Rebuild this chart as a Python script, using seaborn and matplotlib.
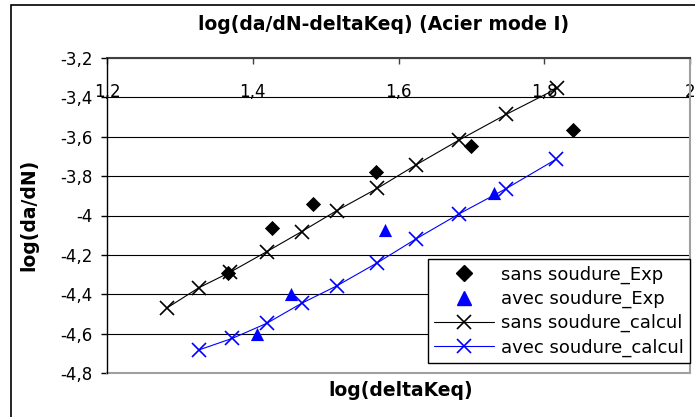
import matplotlib
matplotlib.use("Agg")
import matplotlib.pyplot as plt
import seaborn as sns
from matplotlib.lines import Line2D
from matplotlib.patches import Rectangle

sns.set_theme(style="white")
plt.rcParams['font.family'] = ['DejaVu Sans']
plt.rcParams['text.color'] = 'black'
plt.rcParams['axes.labelcolor'] = 'black'
plt.rcParams['xtick.color'] = 'black'
plt.rcParams['ytick.color'] = 'black'

# Data
sans_exp_x = [1.366, 1.427, 1.482, 1.569, 1.699, 1.839]
sans_exp_y = [-4.293, -4.062, -3.943, -3.781, -3.645, -3.566]
avec_exp_x = [1.406, 1.453, 1.581, 1.731]
avec_exp_y = [-4.603, -4.400, -4.074, -3.887]
sans_calc_x = [1.283, 1.326, 1.369, 1.419, 1.467, 1.515, 1.571, 1.624, 1.683, 1.748, 1.818]
sans_calc_y = [-4.468, -4.367, -4.288, -4.184, -4.082, -3.976, -3.862, -3.743, -3.617, -3.486, -3.354]
avec_calc_x = [1.326, 1.372, 1.419, 1.467, 1.515, 1.571, 1.624, 1.683, 1.747, 1.816]
avec_calc_y = [-4.683, -4.624, -4.548, -4.446, -4.358, -4.240, -4.119, -3.992, -3.865, -3.715]
x_ticks = [1.2, 1.4, 1.6, 1.8, 2.0]
x_tick_labels = ["1,2", "1,4", "1,6", "1,8", "2"]
y_ticks = [-3.2, -3.4, -3.6, -3.8, -4.0, -4.2, -4.4, -4.6, -4.8]
y_tick_labels = ["-3,2", "-3,4", "-3,6", "-3,8", "-4", "-4,2", "-4,4", "-4,6", "-4,8"]
labels = ["sans soudure_Exp", "avec soudure_Exp", "sans soudure_calcul", "avec soudure_calcul"]

fig = plt.figure(figsize=(6.95, 4.17), dpi=100)
fig.patch.set_facecolor("white")
ax = fig.add_axes([107/695, 1-373/417, (690-107)/695, (373-58)/417])

# outer chart frame
fig.add_artist(Rectangle((11/695, -0.1), 1.2, (1-5/417)+0.1, transform=fig.transFigure,
                         fill=False, edgecolor="black", linewidth=1.2, zorder=0))

blue = "#0000FF"
sns.lineplot(x=sans_calc_x, y=sans_calc_y, ax=ax, sort=False, color="black", linewidth=0.8,
             marker="x", markersize=9.5, markeredgewidth=1.2, markeredgecolor="black", zorder=3)
sns.lineplot(x=avec_calc_x, y=avec_calc_y, ax=ax, sort=False, color=blue, linewidth=0.8,
             marker="x", markersize=9.5, markeredgewidth=1.2, markeredgecolor=blue, zorder=3)
sns.scatterplot(x=sans_exp_x, y=sans_exp_y, ax=ax, marker="D", s=60, color="black",
                edgecolor="black", linewidth=0, zorder=4)
sns.scatterplot(x=avec_exp_x, y=avec_exp_y, ax=ax, marker="^", s=90, color=blue,
                edgecolor=blue, linewidth=0, zorder=4)

ax.set_xlim(1.2, 2.0)
ax.set_ylim(-4.8, -3.2)
ax.set_yticks(y_ticks)
ax.set_yticklabels(y_tick_labels, fontsize=12)
ax.set_xticks(x_ticks)
ax.set_xticklabels(x_tick_labels, fontsize=12)
ax.xaxis.set_ticks_position("top")
ax.tick_params(axis="x", top=True, bottom=False, labeltop=True, labelbottom=False,
               direction="in", length=4, width=1, color="#404040", pad=-31)
ax.tick_params(axis="y", left=True, direction="out", length=4.5, width=1, color="black", pad=6)
ax.grid(axis="y", color="black", linewidth=0.8)
ax.grid(axis="x", visible=False)
ax.set_axisbelow(True)

for s in ["bottom", "right"]:
    ax.spines[s].set_color("#a0a0a0")
    ax.spines[s].set_linewidth(1.5)
ax.spines["top"].set_color("#404040")
ax.spines["top"].set_linewidth(1.5)
ax.spines["left"].set_color("black")
ax.spines["left"].set_linewidth(1)
ax.spines["left"].set_zorder(5)

ax.set_xlabel("")
ax.set_ylabel("")
fig.text(401/695, 1-391/417, "log(deltaKeq)", ha="center", va="center",
         fontsize=13.5, fontweight="bold")
fig.text(29/695, 1-215/417, "log(da/dN)", ha="center", va="center", rotation=90,
         fontsize=13.5, fontweight="bold")
fig.text(384/695, 1-24/417, "log(da/dN-deltaKeq) (Acier mode I)", ha="center", va="center",
         fontsize=13.5, fontweight="bold")

handles = [
    Line2D([], [], linestyle="none", marker="D", markersize=8, color="black"),
    Line2D([], [], linestyle="none", marker="^", markersize=10, color=blue),
    Line2D([], [], color="black", linewidth=0.8, marker="x", markersize=9.5, markeredgewidth=1.2),
    Line2D([], [], color=blue, linewidth=0.8, marker="x", markersize=9.5, markeredgewidth=1.2),
]
leg = ax.legend(handles, labels, loc="lower right", bbox_to_anchor=(1.0, (373-363)/315),
                fontsize=13, frameon=True, fancybox=False, framealpha=1,
                edgecolor="black", handlelength=3.3, borderpad=0.35, labelspacing=0.33,
                handletextpad=0.4, borderaxespad=0)
leg.get_frame().set_linewidth(1)

fig.savefig("out.png", dpi=100)
